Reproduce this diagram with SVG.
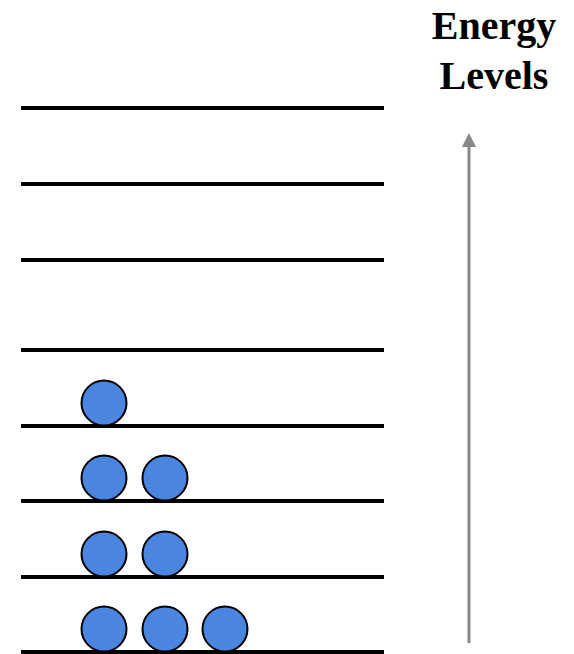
<svg xmlns="http://www.w3.org/2000/svg" width="574" height="654" viewBox="0 0 574 654">
  <style>
    .level { stroke: #000; stroke-width: 4; }
    .electron { fill: #4a86e0; stroke: #000; stroke-width: 2; }
    .title { font-family: "Liberation Serif", "Times New Roman", serif; font-weight: bold; font-size: 40px; text-anchor: middle; fill: #000; }
    .axis { stroke: #888; stroke-width: 3; fill: none; }
  </style>
  <defs>
    <!-- arrowhead drawn along +x so orient="auto" follows the line direction -->
    <marker id="arrowhead" markerUnits="userSpaceOnUse" markerWidth="14" markerHeight="14" refX="0" refY="7" orient="auto" viewBox="0 0 14 14">
      <path d="M0,0 L14,7 L0,14 Z" fill="#888"/>
    </marker>
  </defs>
  <rect width="574" height="654" fill="#fff"/>

  <g id="title">
    <text class="title" x="494" y="39">Energy</text>
    <text class="title" x="494" y="89">Levels</text>
  </g>

  <g id="levels">
    <line class="level" x1="21" y1="108" x2="384" y2="108"/>
    <line class="level" x1="21" y1="184" x2="384" y2="184"/>
    <line class="level" x1="21" y1="260" x2="384" y2="260"/>
    <line class="level" x1="21" y1="350" x2="384" y2="350"/>
    <line class="level" x1="21" y1="426" x2="384" y2="426"/>
    <line class="level" x1="21" y1="501" x2="384" y2="501"/>
    <line class="level" x1="21" y1="577" x2="384" y2="577"/>
    <line class="level" x1="21" y1="652" x2="384" y2="652"/>
  </g>

  <g id="electrons">
    <circle class="electron" cx="104" cy="403" r="22.5"/>
    <circle class="electron" cx="104" cy="478" r="22.5"/>
    <circle class="electron" cx="165" cy="478" r="22.5"/>
    <circle class="electron" cx="104" cy="554" r="22.5"/>
    <circle class="electron" cx="165" cy="554" r="22.5"/>
    <circle class="electron" cx="104" cy="629" r="22.5"/>
    <circle class="electron" cx="165" cy="629" r="22.5"/>
    <circle class="electron" cx="225" cy="629" r="22.5"/>
  </g>

  <g id="connectors">
    <line class="axis" x1="469" y1="643" x2="469" y2="147" marker-end="url(#arrowhead)"/>
  </g>
</svg>
